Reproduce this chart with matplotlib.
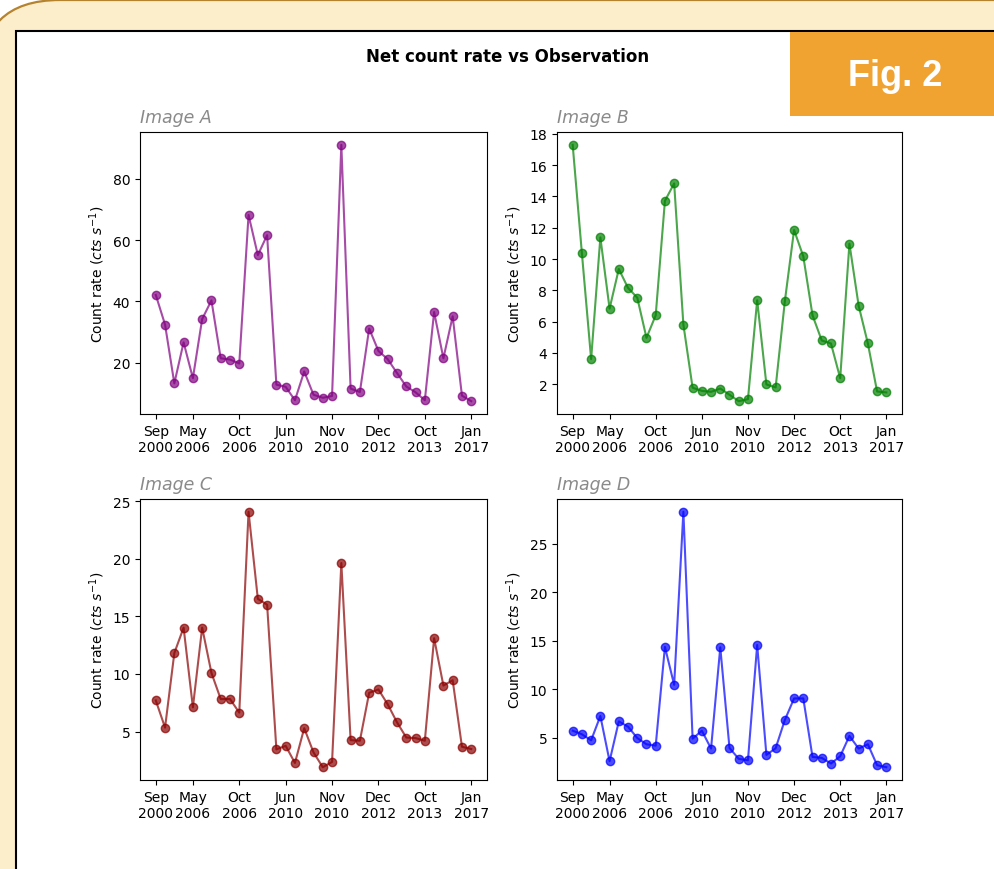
import matplotlib
matplotlib.use("Agg")
import matplotlib.pyplot as plt
from matplotlib.patches import Rectangle, FancyBboxPatch
from matplotlib.transforms import IdentityTransform

W, H = 994, 870

tick_pos = [0, 4, 9, 14, 19, 24, 29, 34]
tick_labels = ["Sep\n2000", "May\n2006", "Oct\n2006", "Jun\n2010", "Nov\n2010",
               "Dec\n2012", "Oct\n2013", "Jan\n2017"]

rate_a = [42.1, 32.4, 13.2, 26.6, 14.9, 34.2, 40.3, 21.4, 21.0, 19.7, 68.2, 55.1,
          61.6, 12.8, 12.1, 7.7, 17.1, 9.5, 8.5, 9.1, 91.1, 11.5, 10.4, 31.1,
          23.8, 21.1, 16.6, 12.2, 10.3, 7.7, 36.5, 21.4, 35.1, 9.2, 7.4]
rate_b = [17.30, 10.36, 3.60, 11.38, 6.83, 9.36, 8.15, 7.53, 4.96, 6.40, 13.72,
          14.83, 5.81, 1.77, 1.57, 1.51, 1.72, 1.32, 0.91, 1.04, 7.36, 1.98, 1.79,
          7.30, 11.85, 10.17, 6.40, 4.79, 4.60, 2.38, 10.98, 7.02, 4.60, 1.53, 1.47]
rate_c = [7.70, 5.34, 11.81, 14.02, 7.10, 14.02, 10.09, 7.82, 7.82, 6.64, 24.08,
          16.52, 16.01, 3.45, 3.76, 2.27, 5.29, 3.19, 1.90, 2.36, 19.63, 4.25, 4.20,
          8.36, 8.65, 7.36, 5.80, 4.48, 4.43, 4.20, 13.10, 8.99, 9.45, 3.68, 3.48]
rate_d = [5.75, 5.38, 4.76, 7.26, 2.61, 6.71, 6.16, 5.00, 4.35, 4.21, 14.37, 10.47,
          28.28, 4.93, 5.75, 3.91, 14.33, 3.97, 2.85, 2.71, 14.57, 3.26, 3.94, 6.85,
          9.07, 9.07, 3.05, 2.95, 2.37, 3.12, 5.21, 3.91, 4.35, 2.20, 1.99]

b_yticks = [2, 4, 6, 8, 10, 12, 14, 16, 18]

panels = [
    ("Image A", rate_a, "purple", (140, 133, 487, 415), None),
    ("Image B", rate_b, "green", (557, 133, 902, 415), b_yticks),
    ("Image C", rate_c, "darkred", (140, 500, 487, 781), None),
    ("Image D", rate_d, "blue", (557, 500, 902, 781), None),
]

fig = plt.figure(figsize=(W / 100, H / 100), dpi=100)
fig.patch.set_facecolor("white")

def disp(x, y):
    return x, H - y

# rounded card
L, T, R, B = -20, 1, 1200, 1100
card = FancyBboxPatch(disp(L, B), R - L, B - T,
                      boxstyle="round,pad=0,rounding_size=80",
                      facecolor="#FCEECB", edgecolor="#B5822E", linewidth=1.6,
                      transform=IdentityTransform(), zorder=0)
fig.patches.append(card)

# white inner panel
panel = Rectangle(disp(16, 900), 1100, 900 - 32, facecolor="white",
                  edgecolor="black", linewidth=1.5,
                  transform=IdentityTransform(), zorder=1)
fig.patches.append(panel)

# Fig. 2 label box
lab = Rectangle(disp(790, 117), 220, 117 - 33, facecolor="#F0A330",
                edgecolor="none", transform=IdentityTransform(), zorder=2)
fig.patches.append(lab)
fig.text(895 / W, 1 - 77 / H, "Fig. 2", color="white", fontsize=26,
         fontweight="bold", family=["Liberation Sans", "DejaVu Sans"],
         ha="center", va="center", zorder=3)

fig.text(508 / W, 1 - 57 / H, "Net count rate vs Observation", fontsize=12,
         fontweight="bold", ha="center", va="center", zorder=3)

for name, vals, color, (x0, y0, x1, y1), yt in panels:
    ax = fig.add_axes([x0 / W, 1 - y1 / H, (x1 - x0) / W, (y1 - y0) / H])
    ax.set_zorder(3)
    x = list(range(len(vals)))
    ax.plot(x, vals, "-o", color=color, alpha=0.7, markersize=6, linewidth=1.5)
    ax.set_xticks(tick_pos)
    ax.set_xticklabels(tick_labels)
    if yt is not None:
        ax.set_yticks(yt)
    ax.set_ylabel(r"Count rate ($cts\ s^{-1}$)")
    ax.set_title(name, loc="left", fontsize=12.5, style="italic",
                 color="#8a8a8a", pad=7)

fig.savefig("out.png", dpi=100)
